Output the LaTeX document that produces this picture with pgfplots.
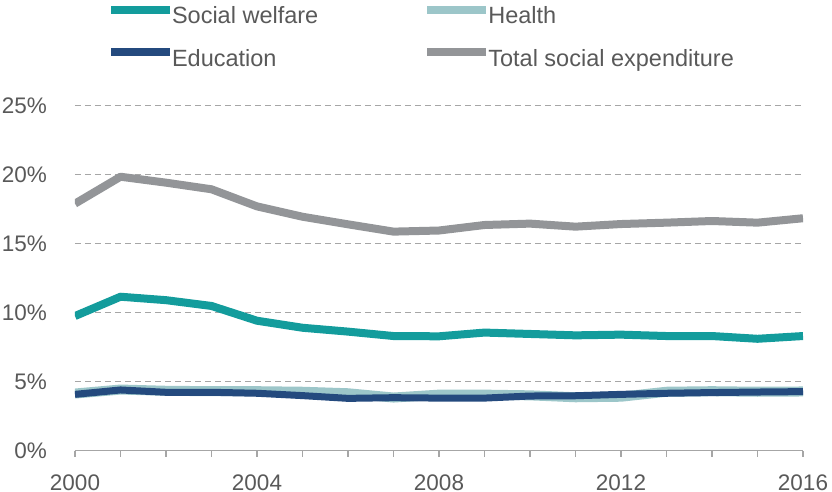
\documentclass[border=0pt]{standalone}
\usepackage{pgfplots}
\pgfplotsset{compat=1.18}
\usepackage{fontspec}
\setmainfont{Liberation Sans}
\definecolor{cSW}{HTML}{139C9C}
\definecolor{cH}{HTML}{9CC6C9}
\definecolor{cE}{HTML}{244A7E}
\definecolor{cT}{HTML}{939598}
\definecolor{txt}{HTML}{595959}
\definecolor{grd}{HTML}{A6A6A6}
\begin{document}
\begin{tikzpicture}
\useasboundingbox (-75pt,-40.5pt) rectangle (757pt,450.5pt);
\begin{axis}[
  at={(0pt,0pt)}, anchor=south west,
  scale only axis, width=728pt, height=344.8pt,
  xmin=2000, xmax=2016, ymin=0, ymax=25,
  axis lines*=left,
  y axis line style={draw=none},
  x axis line style={grd, line width=1.5pt},
  ytick={0,5,...,25},
  ymajorgrids,
  grid style={grd, line width=1.2pt, dash pattern=on 6pt off 4pt},
  xtick={2000,2004,...,2016},
  minor xtick={2001,...,2015},
  tick align=outside,
  major tick length=6pt, minor tick length=6pt,
  xtick style={grd, line width=1.5pt},
  minor tick style={grd, line width=1.5pt},
  ytick style={draw=none},
  /pgf/number format/assume math mode=true,
  xticklabel style={font=\fontsize{22.5}{27}\selectfont, text=txt, inner sep=0pt, anchor=north, yshift=-18pt},
  yticklabel style={font=\fontsize{22.5}{27}\selectfont, text=txt, inner sep=0pt, anchor=east, xshift=-22pt},
  xticklabel={\pgfmathprintnumber[1000 sep={}]{\tick}},
  yticklabel={\pgfmathprintnumber{\tick}\%},
  legend columns=2,
  legend cell align=left,
  legend image code/.code={\draw[#1, line width=8pt] (0pt,8.4pt) -- (59pt,8.4pt);},
  legend style={at={(0.044,1.29)}, anchor=north west, draw=none, fill=none,
    inner sep=0pt, outer sep=0pt,
    font=\fontsize{23.5}{28}\selectfont, text=txt,
    nodes={inner sep=0pt, text height=17pt, text depth=6pt},
    row sep=18.5pt,
    /tikz/every odd column/.append style={column sep=-2pt},
    /tikz/every even column/.append style={column sep=105pt}},
  every axis plot/.append style={line join=round, no markers},
]
\addplot[cSW, line width=8pt] coordinates {
(2000,9.75) (2001,11.15) (2002,10.9) (2003,10.48) (2004,9.41) (2005,8.9) (2006,8.62) (2007,8.3) (2008,8.28)
(2009,8.55) (2010,8.45) (2011,8.35) (2012,8.4) (2013,8.3) (2014,8.3) (2015,8.1) (2016,8.3)};
\addlegendentry{Social welfare}
\addplot[cH, line width=10pt] coordinates {
(2000,4.13) (2001,4.42) (2002,4.33) (2003,4.3) (2004,4.3) (2005,4.26) (2006,4.15) (2007,3.84) (2008,4.05)
(2009,4.05) (2010,4.0) (2011,3.86) (2012,3.9) (2013,4.26) (2014,4.3) (2015,4.26) (2016,4.28)};
\addlegendentry{Health}
\addplot[cE, line width=7pt] coordinates {
(2000,4.07) (2001,4.39) (2002,4.22) (2003,4.22) (2004,4.15) (2005,3.98) (2006,3.78) (2007,3.83) (2008,3.8)
(2009,3.8) (2010,3.95) (2011,3.97) (2012,4.07) (2013,4.15) (2014,4.2) (2015,4.24) (2016,4.27)};
\addlegendentry{Education}
\addplot[cT, line width=8pt] coordinates {
(2000,17.9) (2001,19.85) (2002,19.42) (2003,18.94) (2004,17.7) (2005,16.95) (2006,16.4) (2007,15.87) (2008,15.95)
(2009,16.35) (2010,16.45) (2011,16.23) (2012,16.42) (2013,16.52) (2014,16.64) (2015,16.52) (2016,16.84)};
\addlegendentry{Total social expenditure}
\end{axis}
\end{tikzpicture}
\end{document}
